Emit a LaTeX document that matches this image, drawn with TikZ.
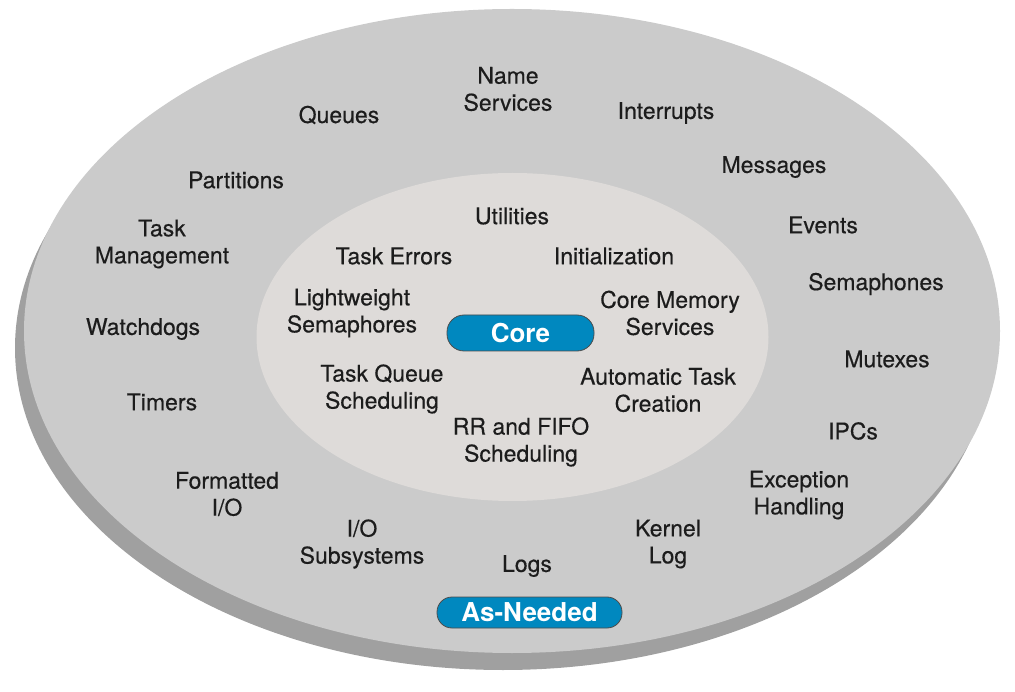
\documentclass[tikz,border=0pt]{standalone}
\usepackage{fontspec}
\setmainfont{TeX Gyre Heros}
\newfontfamily\itemfont[FakeBold=0.4]{TeX Gyre Heros}
\usepackage{xcolor}
\usetikzlibrary{positioning}
\definecolor{ringgray}{HTML}{CBCBCB}
\definecolor{shadegray}{HTML}{A0A0A0}
\definecolor{coregray}{HTML}{DEDBD9}
\definecolor{pillblue}{HTML}{0088BF}
\definecolor{txtdark}{HTML}{1C1C1C}

\begin{document}
\begin{tikzpicture}[
  x=1pt, y=-1pt,
  item/.style={align=center, inner sep=0pt, text=txtdark, font=\itemfont\fontsize{23}{27}\selectfont},
  pill/.style={draw=black!70, line width=0.8pt, fill=pillblue, text=white, rounded corners=15pt,
    inner sep=0pt, font=\fontsize{26}{30}\selectfont\bfseries}
]
\useasboundingbox (0,0) rectangle (1015,692);

% rings
\fill[shadegray] (503,348) ellipse [x radius=488, y radius=322];
\fill[ringgray] (512,331) ellipse [x radius=488, y radius=322];
\fill[coregray] (512.5,337) ellipse [x radius=256, y radius=164];

% as-needed services
\node[item] (namesrv) at (508,89) {Name\\Services};
\node[item] (queues) at (339,115) {Queues};
\node[item] (intr) at (666,113) {Interrupts};
\node[item] (parts) at (236,180) {Partitions};
\node[item] (msgs) at (774,167) {Messages};
\node[item] (taskmgmt) at (162,244) {Task\\Management};
\node[item] (events) at (823,225) {Events};
\node[item] (sema) at (876,284) {Semaphones};
\node[item] (wdog) at (143,329) {Watchdogs};
\node[item] (mutex) at (887,359) {Mutexes};
\node[item] (timers) at (162,402) {Timers};
\node[item] (ipcs) at (853,431) {IPCs};
\node[item] (fmtio) at (227,494) {Formatted\\I/O};
\node[item] (exc) at (799,495) {Exception\\Handling};
\node[item] (iosub) at (362,544) {I/O\\Subsystems};
\node[item] (klog) at (668,544) {Kernel\\Log};
\node[item] (logs) at (527,566) {Logs};
\node[pill, minimum width=185pt, minimum height=31pt] (asneeded) at (529.5,612.5) {As-Needed};

% core services
\node[item] (util) at (512,216) {Utilities};
\node[item] (taskerr) at (394,256) {Task Errors};
\node[item] (init) at (614,256) {Initialization};
\node[item] (lwsema) at (352,313) {Lightweight\\Semaphores};
\node[item] (coremem) at (670,313) {Core Memory\\Services};
\node[item] (tqsched) at (382,389) {Task Queue\\Scheduling};
\node[item] (autotask) at (658,390) {Automatic Task\\Creation};
\node[item] (rrfifo) at (521,442) {RR and FIFO\\Scheduling};
\node[pill, minimum width=147pt, minimum height=36pt, rounded corners=17pt] (core) at (520.5,333) {Core};
\end{tikzpicture}
\end{document}
